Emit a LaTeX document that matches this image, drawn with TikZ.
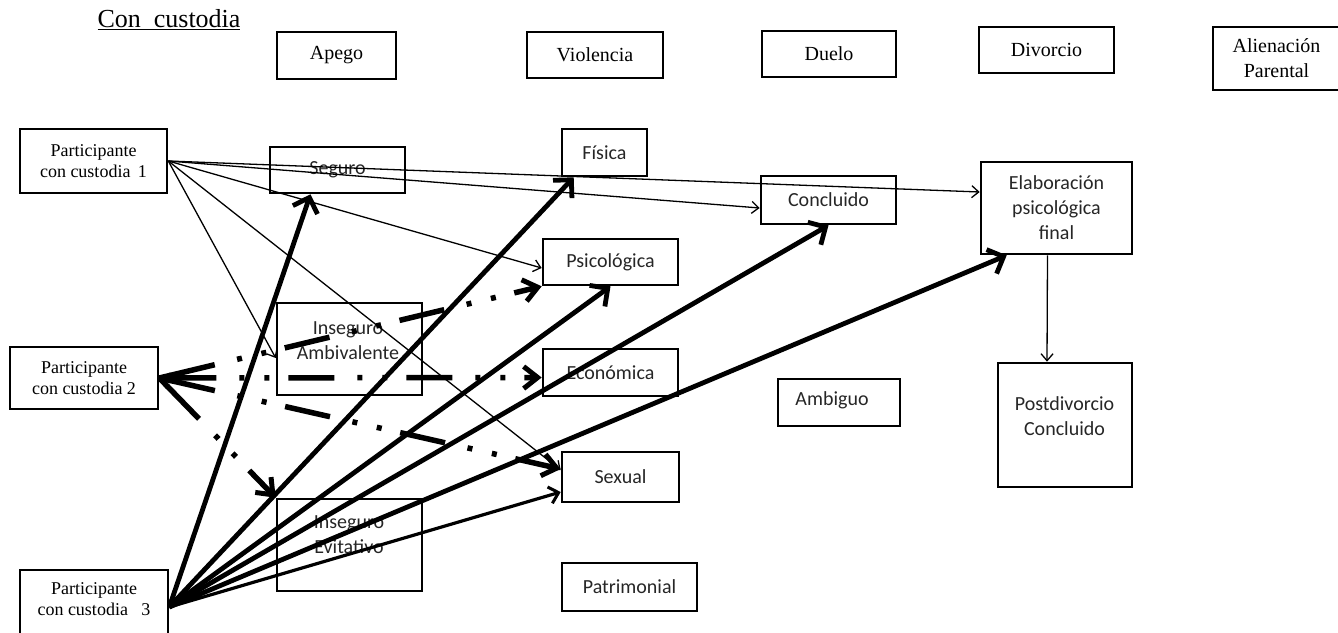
\documentclass[tikz,border=0pt]{standalone}
\usepackage{fontspec}
\setmainfont{Liberation Serif}
\newfontfamily\carl{Carlito}
\usetikzlibrary{arrows.meta,calc}
\begin{document}
\begin{tikzpicture}[x=1pt,y=-1pt,
  box/.style={draw, line width=2.6pt, inner sep=0pt, align=center, font=\fontsize{20}{25}\selectfont},
  pbox/.style={box, font=\fontsize{18}{21}\selectfont},
  sbox/.style={box, font=\carl\fontsize{20}{25}\selectfont, text=black!85},
  stxt/.style={inner sep=0pt, align=center, font=\carl\fontsize{20}{25}\selectfont, text=black!85},
  ptxt/.style={inner sep=0pt, align=center, font=\fontsize{18}{21}\selectfont},
  thinarr/.style={line width=1.3pt, -{Straight Barb[length=7pt,width=12pt,line width=1.3pt]}},
  medarr/.style={line width=3.2pt, -{Straight Barb[length=9pt,width=17pt,line width=3pt]}},
  thickarr/.style={line width=4.8pt, -{Straight Barb[length=13pt,width=26pt,line width=4.8pt]}},
  ddarr/.style={line width=5.5pt, dash pattern=on 46pt off 23pt on 5pt off 20pt on 5pt off 19pt, dash phase=107pt, -{Straight Barb[length=14pt,width=22pt,line width=5pt]}},
  ddstart/.style={line width=5.5pt},
]
\useasboundingbox (0,0) rectangle (1338,632);

% title
\node[inner sep=0pt, font=\fontsize{26}{30}\selectfont] (title) at (169,20) {\underline{Con\hspace{13pt}custodia}};

% header boxes
\node[box, minimum width=119, minimum height=47] (apego) at (336.5,55.5) {Apego};
\node[box, minimum width=136, minimum height=46] (viol) at (595,55) {Violencia};
\node[box, minimum width=134, minimum height=46] (duelo) at (829,54) {Duelo};
\node[box, minimum width=135, minimum height=46] (divo) at (1046.5,50) {Divorcio};
\node[box, minimum width=127, minimum height=63] (alien) at (1276.5,58.5) {Alienación\\Parental};

% participants
\node[pbox, minimum width=147, minimum height=64] (p1) at (93.5,161) {Participante\\con custodia \,1};
\node[pbox, minimum width=148, minimum height=62] (p2) at (84,378) {Participante\\con custodia 2};
\node[box, minimum width=148, minimum height=70] (p3) at (94,605) {};
\node[ptxt] (p3t) at (94,599) {Participante\\con custodia \ \ 3};

% attachment
\node[sbox, minimum width=135, minimum height=46] (seg) at (337.5,170) {Seguro};
\node[box, minimum width=145, minimum height=92] (amb) at (349.5,349) {};
\node[stxt] (ambt) at (348,340.5) {Inseguro\\Ambivalente};
\node[box, minimum width=145, minimum height=92] (evi) at (349.5,545) {};
\node[stxt] (evit) at (349,535) {Inseguro\\Evitativo};

% violence
\node[sbox, minimum width=85, minimum height=47] (fis) at (604.5,152.5) {Física};
\node[sbox, minimum width=135, minimum height=46] (psi) at (610.5,262) {Psicológica};
\node[sbox, minimum width=135, minimum height=47] (eco) at (610.5,372.5) {Económica};
\node[sbox, minimum width=117, minimum height=50] (sex) at (620.5,477) {Sexual};
\node[sbox, minimum width=135, minimum height=48] (pat) at (629.5,587) {Patrimonial};

% grief
\node[sbox, minimum width=135, minimum height=48] (conc) at (828.5,200) {Concluido};
\node[box, minimum width=122, minimum height=47] (ambi) at (839,402.5) {};
\node[stxt] (ambit) at (832,400) {Ambiguo};

% divorce
\node[sbox, minimum width=151, minimum height=92] (elab) at (1056.5,208) {Elaboración\\psicológica\\final};
\node[box, minimum width=134, minimum height=124] (post) at (1065,425) {};
\node[stxt] (postt) at (1064.5,416) {Postdivorcio\\Concluido};

% thin arrows from participant 1
\draw[thinarr] (p1.east) -- ($(elab.west)+(0,-16)$);
\draw[thinarr] (p1.east) -- ($(conc.west)+(0,8)$);
\draw[thinarr] (p1.east) -- ($(psi.west)+(0,6)$);
\draw[thinarr] (p1.east) -- ($(sex.west)+(0,-7)$);
\draw[thinarr] (p1.east) -- ($(amb.west)+(0,9)$);

% elaboration to postdivorce
\draw[thinarr] ($(elab.south)+(-9,0)$) -- ($(post.north)+(-18,0)$);

% dash-dot arrows from participant 2
\coordinate (dA) at (psi.south west);
\coordinate (dB) at ($(eco.west)+(0,5)$);
\coordinate (dC) at ($(sex.west)+(0,-8)$);
\coordinate (dD) at (evi.north west);
\foreach \t in {dA,dB,dC,dD} {
  \draw[ddarr] (p2.east) -- (\t);
  \draw[ddstart] (p2.east) -- ($(p2.east)!12pt!(\t)$);
}

% thick arrows from participant 3
\coordinate (p3o) at ($(p3.east)+(0,2)$);
\draw[thickarr] (p3o) -- ($(seg.south)+(-27,0)$);
\draw[thickarr] (p3o) -- ($(fis.south west)+(13,0)$);
\draw[thickarr] (p3o) -- (psi.south);
\draw[thickarr] (p3o) -- (conc.south);
\draw[thickarr] (p3o) -- ($(elab.south west)+(27,0)$);
\draw[medarr] (p3o) -- ($(sex.west)+(0,15)$);
\end{tikzpicture}
\end{document}
